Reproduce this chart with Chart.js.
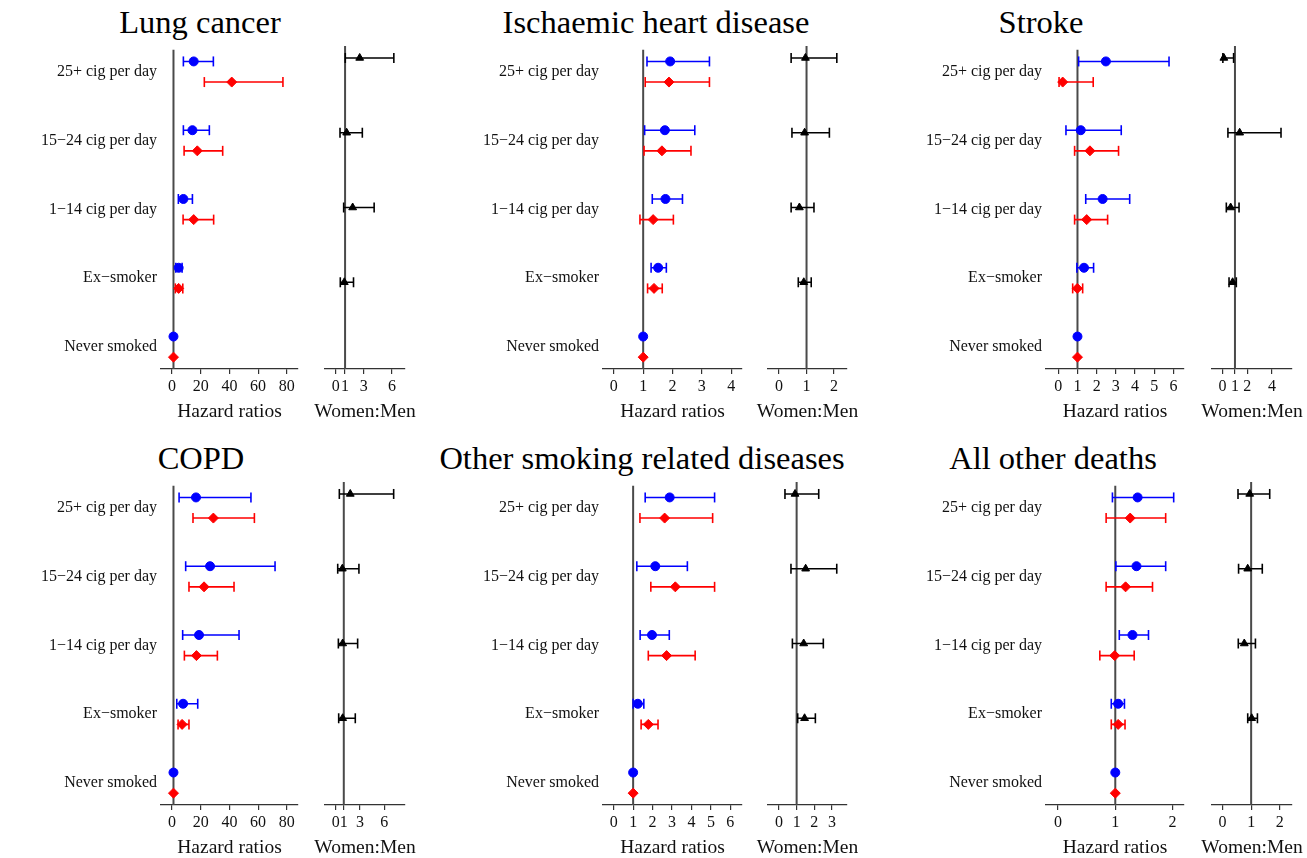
<!DOCTYPE html>
<html lang="en">
  <head>
    <meta charset="UTF-8" />
    <meta name="viewport" content="width=device-width, initial-scale=1.0" />
    <title>Smoking and cause-specific mortality</title>
    <style>
      body {
        margin: 0;
        background: #fff;
      }
      #page {
        position: relative;
        width: 1307px;
        height: 858px;
        overflow: hidden;
        font-family: "Liberation Serif", "DejaVu Serif", serif;
      }
      #page canvas {
        position: absolute;
      }
      .title {
        position: absolute;
        font-size: 32.5px;
        color: #000;
        white-space: nowrap;
        transform: translate(-50%, -50%);
      }
    </style>
  </head>
  <body>
    <div id="page"></div>

    <script src="https://cdn.jsdelivr.net/npm/chart.js"></script>

    <script>
      const categories = [
        "25+ cig per day",
        "15\u221224 cig per day",
        "1\u221214 cig per day",
        "Ex\u2212smoker",
        "Never smoked",
      ];

      // each row: [estimate, lower, upper]; never smoked is the reference (1)
      const lungMen = [[15.1, 7.9, 28.8], [14.2, 7.9, 26], [7.9, 4.4, 14.2], [4.6, 2.6, 7], [1, null, null]];
      const lungWomen = [[41.6, 22.5, 77.3], [17.6, 8.4, 35.3], [15.1, 7.7, 29], [4.6, 2.3, 7.5], [1, null, null]];
      const lungRatio = [[2.56, 1.02, 6.2], [1.17, 0.46, 2.84], [1.81, 0.85, 4.1], [0.92, 0.49, 1.9]];

      const ihdMen = [[1.92, 1.13, 3.26], [1.74, 1.05, 2.76], [1.76, 1.31, 2.34], [1.51, 1.27, 1.79], [1, null, null]];
      const ihdWomen = [[1.88, 1.07, 3.26], [1.64, 1.03, 2.63], [1.34, 0.89, 2.03], [1.37, 1.15, 1.65], [1, null, null]];
      const ihdRatio = [[0.96, 0.44, 2.1], [0.93, 0.47, 1.83], [0.74, 0.44, 1.27], [0.9, 0.7, 1.17]];

      const strokeMen = [[2.48, 1.06, 5.77], [1.17, 0.4, 3.28], [2.31, 1.43, 3.72], [1.34, 0.97, 1.84], [1, null, null]];
      const strokeWomen = [[0.23, 0.04, 1.82], [1.65, 0.85, 3.14], [1.48, 0.85, 2.57], [0.99, 0.75, 1.27], [1, null, null]];
      const strokeRatio = [[0.1, 0.02, 0.89], [1.38, 0.43, 4.73], [0.65, 0.3, 1.33], [0.81, 0.52, 1.11]];

      const copdMen = [[16.7, 4.9, 55], [26.5, 9.5, 71.8], [18.8, 7.4, 46.7], [7.7, 3.3, 17.9], [1, null, null]];
      const copdWomen = [[28.8, 14.6, 57.4], [22.3, 11.8, 43.2], [17, 8.6, 31.6], [7, 4.2, 11.8], [1, null, null]];
      const copdRatio = [[1.8, 0.45, 7.16], [0.82, 0.25, 2.87], [0.86, 0.33, 2.71], [0.86, 0.37, 2.42]];

      const otherMen = [[2.88, 1.62, 5.19], [2.14, 1.19, 3.79], [1.97, 1.36, 2.86], [1.24, 1.0, 1.55], [1, null, null]];
      const otherWomen = [[2.62, 1.35, 5.09], [3.17, 1.91, 5.19], [2.72, 1.78, 4.19], [1.78, 1.41, 2.28], [1, null, null]];
      const otherRatio = [[0.91, 0.34, 2.25], [1.51, 0.68, 3.27], [1.4, 0.76, 2.51], [1.45, 1.06, 2.06]];

      const restMen = [[1.39, 0.95, 2.02], [1.37, 1.01, 1.88], [1.3, 1.07, 1.58], [1.05, 0.93, 1.16], [1, null, null]];
      const restWomen = [[1.26, 0.84, 1.88], [1.18, 0.84, 1.65], [0.99, 0.73, 1.33], [1.05, 0.93, 1.17], [1, null, null]];
      const restRatio = [[0.95, 0.54, 1.65], [0.88, 0.56, 1.39], [0.76, 0.55, 1.15], [1.02, 0.88, 1.22]];

      const lungTicks = [0, 20, 40, 60, 80];
      const lungRatioTicks = [0, 1, 3, 6];
      const ihdTicks = [0, 1, 2, 3, 4];
      const ihdRatioTicks = [0, 1, 2];
      const strokeTicks = [0, 1, 2, 3, 4, 5, 6];
      const strokeRatioTicks = [0, 1, 2, 4];
      const copdTicks = [0, 20, 40, 60, 80];
      const copdRatioTicks = [0, 1, 3, 6];
      const otherTicks = [0, 1, 2, 3, 4, 5, 6];
      const otherRatioTicks = [0, 1, 2, 3];
      const restTicks = [0, 1, 2];
      const restRatioTicks = [0, 1, 2];

      const panels = [
        { title: "Lung cancer", men: lungMen, women: lungWomen, ratio: lungRatio, ticks: lungTicks, ratioTicks: lungRatioTicks, xRange: [-7.7, 87.8], rRange: [-1.14, 7.39], col: 0, row: 0, titleX: 200 },
        { title: "Ischaemic heart disease", men: ihdMen, women: ihdWomen, ratio: ihdRatio, ticks: ihdTicks, ratioTicks: ihdRatioTicks, xRange: [-0.37, 4.37], rRange: [-0.4, 2.47], col: 1, row: 0, titleX: 656 },
        { title: "Stroke", men: strokeMen, women: strokeWomen, ratio: strokeRatio, ticks: strokeTicks, ratioTicks: strokeRatioTicks, xRange: [-0.64, 6.55], rRange: [-0.86, 5.62], col: 2, row: 0, titleX: 1041 },
        { title: "COPD", men: copdMen, women: copdWomen, ratio: copdRatio, ticks: copdTicks, ratioTicks: copdRatioTicks, xRange: [-7.7, 87.8], rRange: [-1.32, 8.56], col: 0, row: 1, titleX: 201 },
        { title: "Other smoking related diseases", men: otherMen, women: otherWomen, ratio: otherRatio, ticks: otherTicks, ratioTicks: otherRatioTicks, xRange: [-0.55, 6.6], rRange: [-0.62, 3.85], col: 1, row: 1, titleX: 642 },
        { title: "All other deaths", men: restMen, women: restWomen, ratio: restRatio, ticks: restTicks, ratioTicks: restRatioTicks, xRange: [-0.21, 2.2], rRange: [-0.37, 2.43], col: 2, row: 1, titleX: 1053 },
      ];

      // pixel layout of the grid
      const cols = [
        { plot: [161, 298], ratio: [325, 405] },
        { plot: [603, 742], ratio: [768, 847] },
        { plot: [1046, 1184], ratio: [1212, 1292] },
      ];
      const rowTop = [46, 482];
      const titleY = [22, 458];
      const plotHeight = 323;
      const labelWidth = 165;
      const axisHeight = 60;

      const font = "'Liberation Serif', 'DejaVu Serif', serif";
      const blue = "#0000ff";
      const red = "#ff0000";
      const refColor = "#4a4a4a";

      const page = document.getElementById("page");

      // axis caption under the tick labels, not squeezed to the plot width
      const axisTitle = {
        id: "axisTitle",
        afterDraw(chart, args, opts) {
          const { ctx, chartArea } = chart;
          ctx.save();
          ctx.font = "19.5px " + font;
          ctx.fillStyle = "#111";
          ctx.textAlign = "center";
          ctx.textBaseline = "middle";
          ctx.fillText(opts.text, (chartArea.left + chartArea.right) / 2, chartArea.bottom + 43);
          ctx.restore();
        },
      };

      function addCanvas(left, top, width, height) {
        const c = document.createElement("canvas");
        c.width = width;
        c.height = height;
        c.style.left = left + "px";
        c.style.top = top + "px";
        page.appendChild(c);
        return c;
      }

      function pointData(rows, offset) {
        return rows.map((r, i) => ({ x: r[0], y: i + offset }));
      }

      // confidence intervals as line pieces, broken by NaN points
      function ciData(rows, offset) {
        const pts = [];
        rows.forEach((r, i) => {
          if (r[1] == null) return;
          pts.push({ x: r[1], y: i + offset }, { x: r[2], y: i + offset }, { x: NaN, y: NaN });
        });
        return pts;
      }

      function ciDataset(rows, offset, color) {
        return {
          data: ciData(rows, offset),
          showLine: true,
          borderColor: color,
          borderWidth: 1.6,
          pointStyle: "line",
          pointRotation: 90,
          pointRadius: 5,
          pointBorderColor: color,
          pointBorderWidth: 1.6,
          clip: false,
        };
      }

      function refLine(yMin, yMax) {
        return {
          data: [{ x: 1, y: yMin }, { x: 1, y: yMax }],
          showLine: true,
          borderColor: refColor,
          borderWidth: 2,
          pointRadius: 0,
        };
      }

      function xAxis(range, ticks) {
        return {
          type: "linear",
          min: range[0],
          max: range[1],
          bounds: "data",
          afterBuildTicks: (s) => {
            s.ticks = ticks.map((v) => ({ value: v }));
          },
          afterFit: (s) => {
            s.height = axisHeight;
          },
          grid: { drawOnChartArea: false, drawTicks: true, tickLength: 5, color: "#333", lineWidth: 1.2 },
          border: { display: true, color: "#333", width: 1.3 },
          ticks: {
            autoSkip: false,
            maxRotation: 0,
            minRotation: 0,
            padding: 3,
            color: "#111",
            font: { family: font, size: 16 },
            callback: (v) => String(v),
          },
        };
      }

      const baseOptions = {
        responsive: false,
        animation: false,
        events: [],
      };

      function forestChart(p) {
        const [L, R] = cols[p.col].plot;
        const top = rowTop[p.row];
        const canvas = addCanvas(L - labelWidth, top - 10, labelWidth + (R - L) + 14, 10 + plotHeight + axisHeight);
        const yMin = -0.172;
        const yMax = 4.472;

        new Chart(canvas, {
          type: "scatter",
          data: {
            datasets: [
              { data: pointData(p.men, 0), pointStyle: "circle", pointRadius: 4.5, backgroundColor: blue, borderColor: blue, clip: false },
              { data: pointData(p.women, 0.3), pointStyle: "rectRot", pointRadius: 5, backgroundColor: red, borderColor: red, clip: false },
              ciDataset(p.men, 0, blue),
              ciDataset(p.women, 0.3, red),
              refLine(yMin, yMax),
            ],
          },
          options: {
            ...baseOptions,
            plugins: { legend: { display: false }, tooltip: { enabled: false }, axisTitle: { text: "Hazard ratios" } },
            layout: { padding: { top: 10, right: 14, left: 0, bottom: 0 } },
            scales: {
              x: xAxis(p.xRange, p.ticks),
              y: {
                type: "linear",
                reverse: true,
                min: yMin,
                max: yMax,
                bounds: "data",
                afterBuildTicks: (s) => {
                  s.ticks = categories.map((c, i) => ({ value: i + 0.15 }));
                },
                afterFit: (s) => {
                  s.width = labelWidth;
                },
                grid: { display: false, drawTicks: false },
                border: { display: false },
                ticks: {
                  autoSkip: false,
                  padding: 4,
                  color: "#111",
                  font: { family: font, size: 16 },
                  callback: (v, i) => categories[i],
                },
              },
            },
          },
          plugins: [axisTitle],
        });
      }

      function ratioChart(p) {
        const [L, R] = cols[p.col].ratio;
        const top = rowTop[p.row];
        const canvas = addCanvas(L - 20, top - 10, R - L + 40, 10 + plotHeight + axisHeight);
        const yMin = -0.16;
        const yMax = 4.16;

        new Chart(canvas, {
          type: "scatter",
          data: {
            datasets: [
              { data: pointData(p.ratio, 0), pointStyle: "triangle", pointRadius: 4.5, backgroundColor: "#000", borderColor: "#000", clip: false },
              ciDataset(p.ratio, 0, "#000"),
              refLine(yMin, yMax),
            ],
          },
          options: {
            ...baseOptions,
            plugins: { legend: { display: false }, tooltip: { enabled: false }, axisTitle: { text: "Women:Men" } },
            layout: { padding: { top: 10, right: 20, left: 20, bottom: 0 } },
            scales: {
              x: xAxis(p.rRange, p.ratioTicks),
              y: { type: "linear", display: false, reverse: true, min: yMin, max: yMax, bounds: "data" },
            },
          },
          plugins: [axisTitle],
        });
      }

      panels.forEach((p) => {
        const t = document.createElement("div");
        t.className = "title";
        t.textContent = p.title;
        t.style.left = p.titleX + "px";
        t.style.top = titleY[p.row] + "px";
        page.appendChild(t);

        forestChart(p);
        ratioChart(p);
      });
    </script>
  </body>
</html>
